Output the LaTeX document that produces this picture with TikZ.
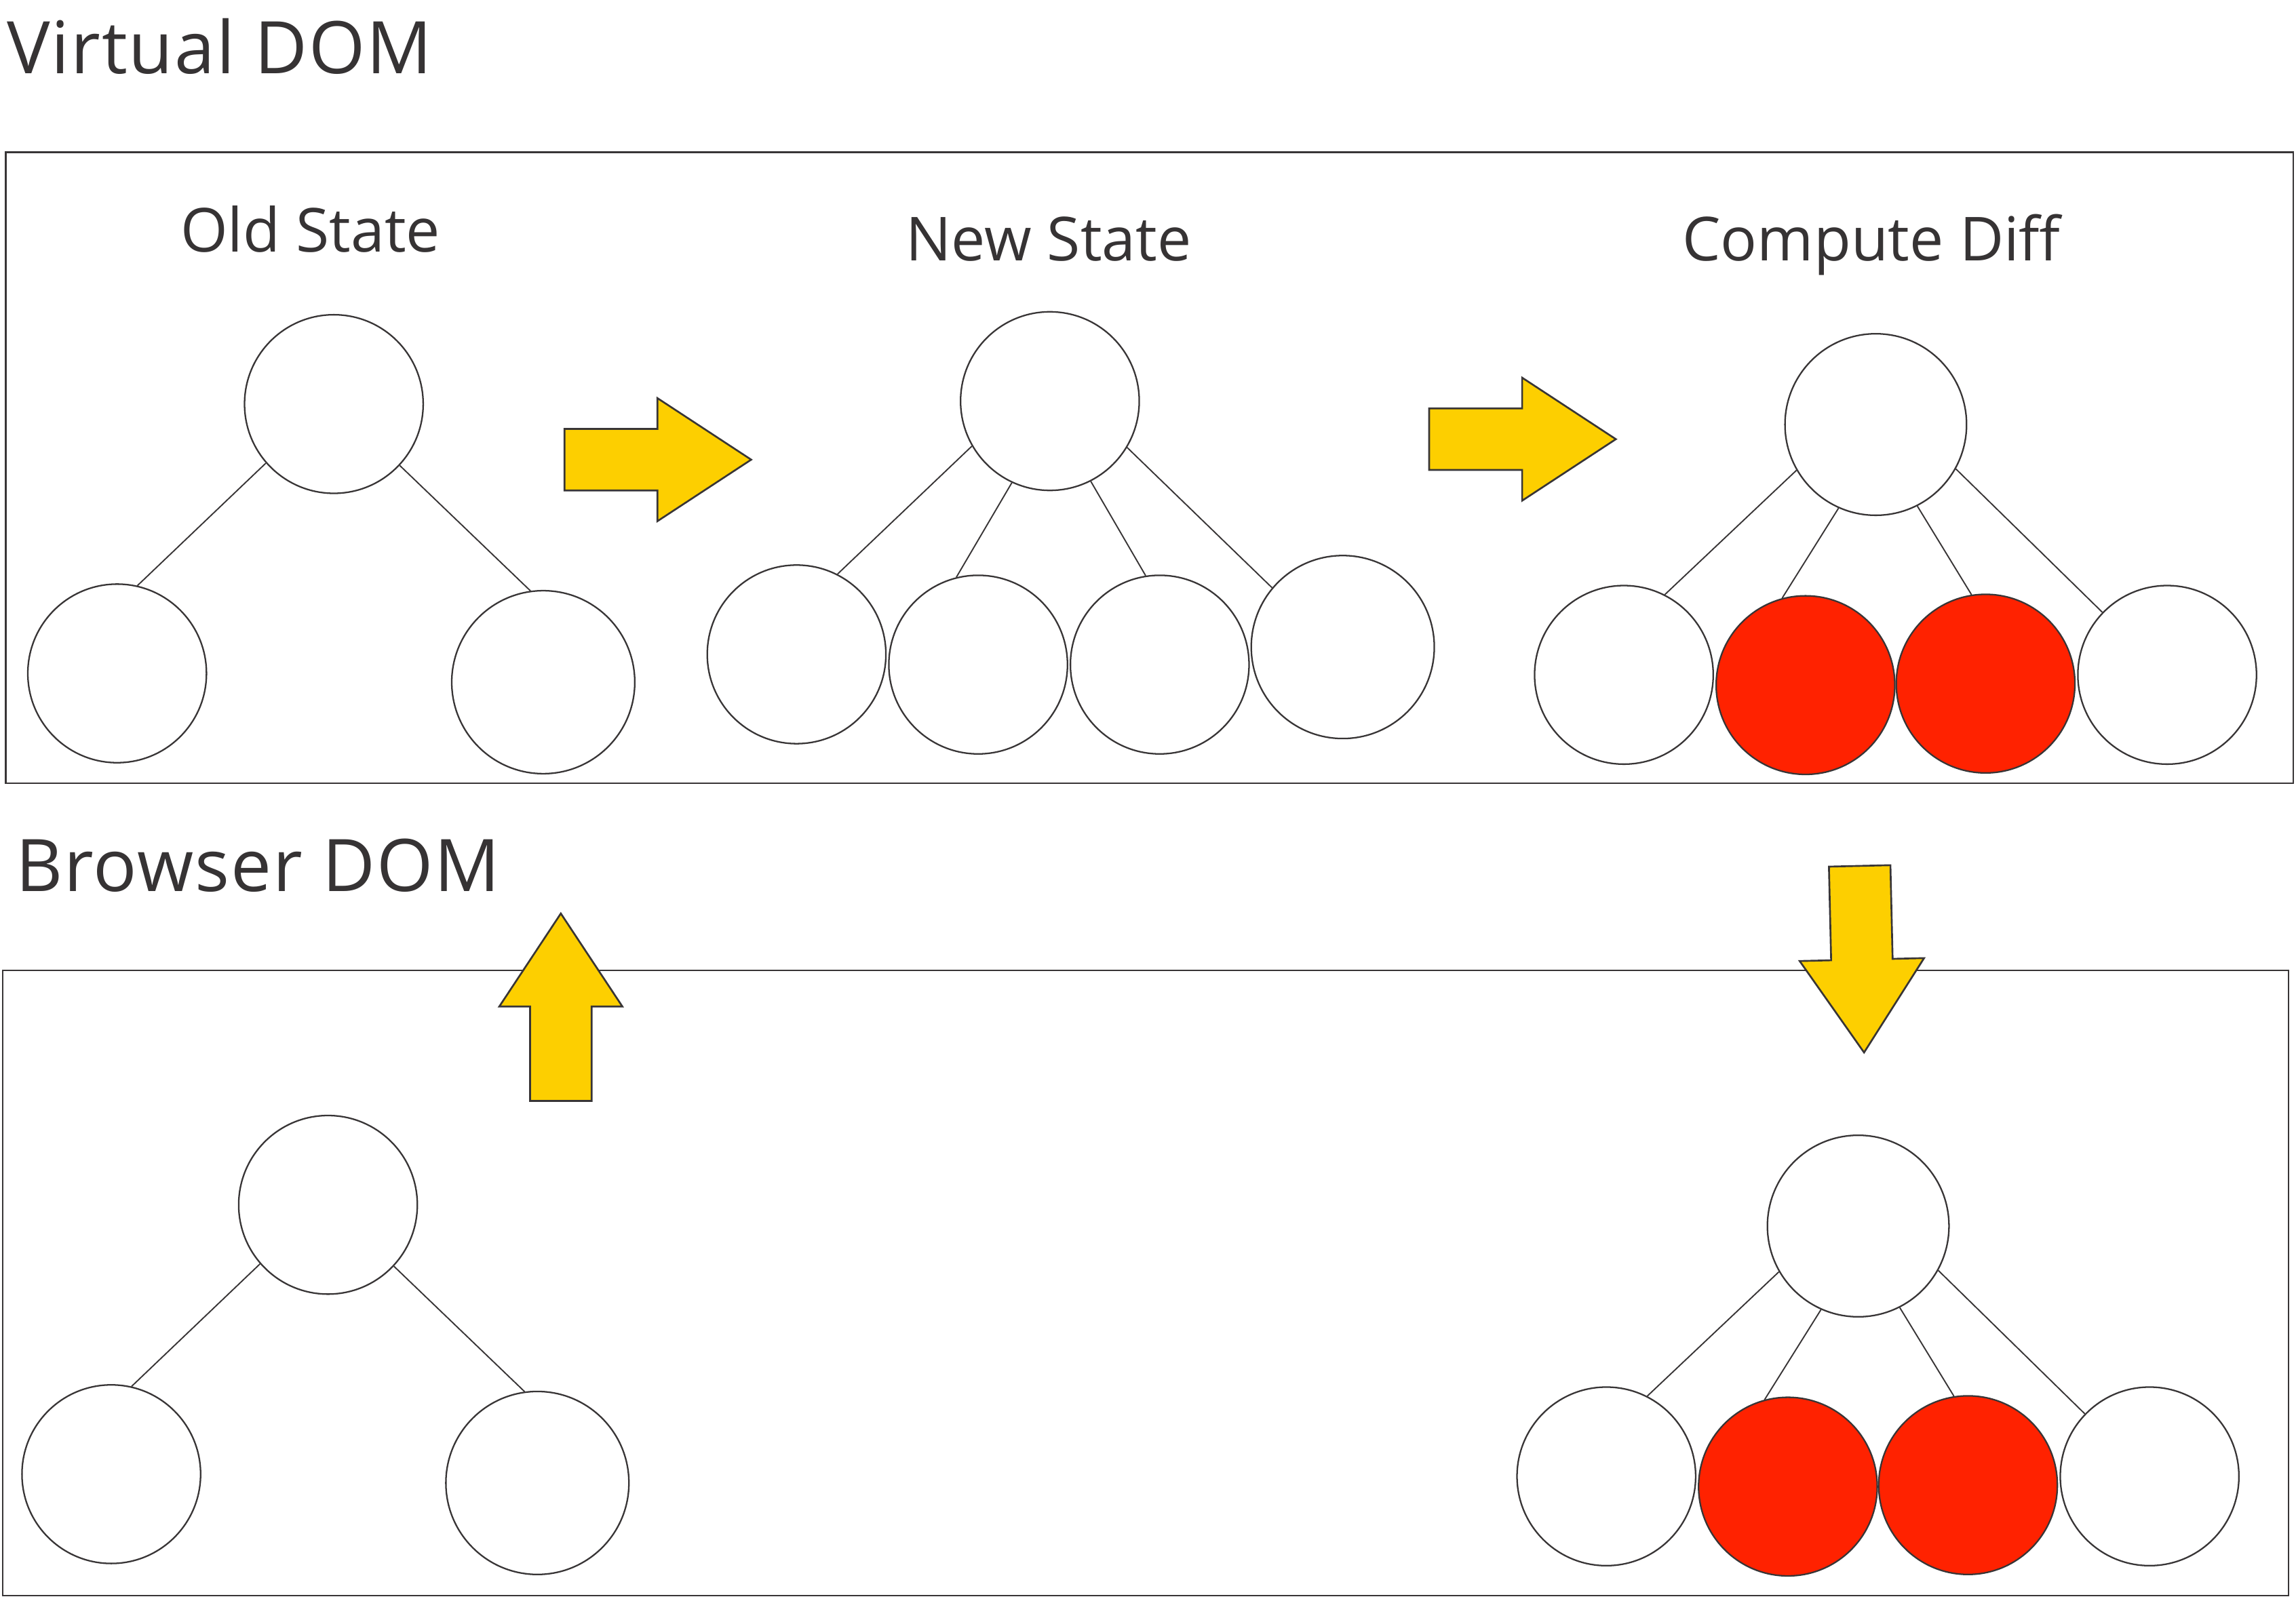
\documentclass[tikz,border=0pt]{standalone}
\usepackage{fontspec}
\setmainfont{Open Sans}
\IfFontExistsTF{Open Sans SemiBold}
  {\newfontfamily\headfont{Open Sans SemiBold}[LetterSpace=0.8]}
  {\newfontfamily\headfont{Open Sans}[LetterSpace=1.8]}
\newfontfamily\labfont{Open Sans}
\definecolor{lineg}{HTML}{383536}
\definecolor{textg}{HTML}{363334}
\definecolor{arrowy}{HTML}{FDCF00}
\definecolor{diffred}{HTML}{FF2200}

\begin{document}
\begin{tikzpicture}
      \tikzstyle{cnode} = [draw=lineg, line width=0.3pt, circle, minimum size=1.22cm, inner sep=0pt, fill=white]
      \tikzstyle{rnode} = [cnode, fill=diffred]
      \tikzstyle{tedge} = [draw=lineg, line width=0.25pt]
      \tikzstyle{dframe} = [draw=lineg, line width=0.3pt]
      \tikzstyle{yarrow} = [draw=lineg, line width=0.35pt, fill=arrowy, line join=miter]
      \tikzstyle{dtitle} = [text=textg, font=\headfont\fontsize{14.1}{16}\selectfont, inner sep=0pt, anchor=base west]
      \tikzstyle{stlabel} = [text=textg, font=\labfont\fontsize{11.8}{14}\selectfont, inner sep=0pt, anchor=base]

      \useasboundingbox (0,0) rectangle (15.68,-10.92);

      %%%%%%%%%%%%%%%%%%%%%%%%%%%%%%
      %% Headings and frames
      %%%%%%%%%%%%%%%%%%%%%%%%%%%%%%
      \node[dtitle] (vdom) at (0.04,-0.502) {Virtual DOM};
      \node[dtitle] (bdom) at (0.10,-6.09) {Browser DOM};

      \draw[dframe] (0.04,-1.04) rectangle (15.66,-5.35);
      \draw[dframe] (0.02,-6.63) rectangle (15.63,-10.90);

      \node[stlabel] (old) at (2.12,-1.72) {Old State};
      \node[stlabel] (new) at (7.16,-1.78) {New State};
      \node[stlabel] (diff) at (12.78,-1.78) {Compute Diff};

      %%%%%%%%%%%%%%%%%%%%%%%%%%%%%%
      %% Old state tree
      %%%%%%%%%%%%%%%%%%%%%%%%%%%%%%
      \node[cnode] (o0) at (2.28,-2.76) {};
      \node[cnode] (o1) at (0.80,-4.60) {};
      \node[cnode, minimum size=1.25cm] (o2) at (3.71,-4.66) {};

      \draw[tedge] (o0.221) -- (o1.77);
      \draw[tedge] (o0.317) -- (o2.98);

      %%%%%%%%%%%%%%%%%%%%%%%%%%%%%%
      %% New state tree
      %%%%%%%%%%%%%%%%%%%%%%%%%%%%%%
      \node[cnode] (n0) at (7.17,-2.74) {};
      \node[cnode] (n1) at (5.44,-4.47) {};
      \node[cnode] (n2) at (6.68,-4.54) {};
      \node[cnode] (n3) at (7.92,-4.54) {};
      \node[cnode, minimum size=1.25cm] (n4) at (9.17,-4.42) {};

      \draw[tedge] (n0.210) -- (n1.63);
      \draw[tedge] (n0.245) -- (n2.104);
      \draw[tedge] (n0.297) -- (n3.99);
      \draw[tedge] (n0.329) -- (n4.140);

      %%%%%%%%%%%%%%%%%%%%%%%%%%%%%%
      %% Diff tree
      %%%%%%%%%%%%%%%%%%%%%%%%%%%%%%
      \node[cnode, minimum size=1.24cm] (d0) at (12.81,-2.90) {};
      \node[cnode] (d1) at (11.09,-4.61) {};
      \node[rnode] (d2) at (12.33,-4.68) {};
      \node[rnode] (d3) at (13.56,-4.67) {};
      \node[cnode] (d4) at (14.80,-4.61) {};

      \draw[tedge] (d0.210) -- (d1.63);
      \draw[tedge] (d0.246) -- (d2.105);
      \draw[tedge] (d0.297) -- (d3.99);
      \draw[tedge] (d0.331) -- (d4.136);

      %%%%%%%%%%%%%%%%%%%%%%%%%%%%%%
      %% Browser trees
      %%%%%%%%%%%%%%%%%%%%%%%%%%%%%%
      \begin{scope}[shift={(-0.04,-5.47)}]
        \node[cnode] (bo0) at (2.28,-2.76) {};
        \node[cnode] (bo1) at (0.80,-4.60) {};
        \node[cnode, minimum size=1.25cm] (bo2) at (3.71,-4.66) {};

        \draw[tedge] (bo0.221) -- (bo1.77);
        \draw[tedge] (bo0.317) -- (bo2.98);
      \end{scope}

      \begin{scope}[shift={(-0.12,-5.475)}]
        \node[cnode, minimum size=1.24cm] (bd0) at (12.81,-2.90) {};
        \node[cnode] (bd1) at (11.09,-4.61) {};
        \node[rnode] (bd2) at (12.33,-4.68) {};
        \node[rnode] (bd3) at (13.56,-4.67) {};
        \node[cnode] (bd4) at (14.80,-4.61) {};

        \draw[tedge] (bd0.210) -- (bd1.63);
        \draw[tedge] (bd0.246) -- (bd2.105);
        \draw[tedge] (bd0.297) -- (bd3.99);
        \draw[tedge] (bd0.331) -- (bd4.136);
      \end{scope}

      %%%%%%%%%%%%%%%%%%%%%%%%%%%%%%
      %% Block arrows
      %%%%%%%%%%%%%%%%%%%%%%%%%%%%%%
      \begin{scope}[shift={(3.855,-3.14)}]
        \draw[yarrow] (0,0.21) -- (0.635,0.21) -- (0.635,0.42) -- (1.275,0) -- (0.635,-0.42) -- (0.635,-0.21) -- (0,-0.21) -- cycle;
      \end{scope}
      \begin{scope}[shift={(9.76,-3.00)}]
        \draw[yarrow] (0,0.21) -- (0.635,0.21) -- (0.635,0.42) -- (1.275,0) -- (0.635,-0.42) -- (0.635,-0.21) -- (0,-0.21) -- cycle;
      \end{scope}
      \begin{scope}[shift={(3.83,-7.52)}, rotate=90]
        \draw[yarrow] (0,0.21) -- (0.645,0.21) -- (0.645,0.42) -- (1.28,0) -- (0.645,-0.42) -- (0.645,-0.21) -- (0,-0.21) -- cycle;
      \end{scope}
      \begin{scope}[shift={(12.70,-5.915)}, rotate=-88.65]
        \draw[yarrow] (0,0.21) -- (0.64,0.21) -- (0.64,0.425) -- (1.275,0) -- (0.64,-0.425) -- (0.64,-0.21) -- (0,-0.21) -- cycle;
      \end{scope}

\end{tikzpicture}
\end{document}
